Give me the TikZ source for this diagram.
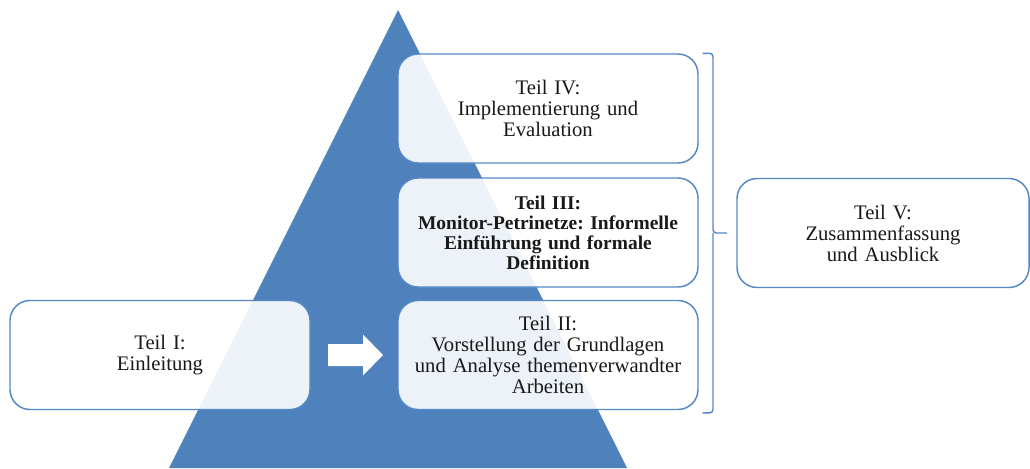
\documentclass[tikz,border=0pt]{standalone}
\usepackage{fontspec}
\setmainfont{Liberation Serif}
\definecolor{officeblue}{RGB}{79,129,189}
\definecolor{frameblue}{RGB}{84,136,198}
\tikzset{
  part/.style={draw=frameblue, line width=1.1pt, fill=white, fill opacity=0.9,
    text opacity=1, rounded corners=15pt, minimum width=225pt,
    minimum height=81.75pt, inner sep=0pt, text width=218pt, align=center,
    font=\frenchspacing\fontsize{15.5}{15.75}\selectfont, text=black!90},
  bracket/.style={draw=frameblue, line width=1.1pt, rounded corners=2.5pt},
  blockarrow/.style={fill=white}
}
\begin{document}
\begin{tikzpicture}[x=0.75pt, y=-0.75pt]
  \useasboundingbox (0,0) rectangle (1030,468);
  % pyramid in the background
  \fill[officeblue] (398,10) -- (627,468) -- (169,468) -- cycle;

  % chapter boxes
  \node[part] (p1) at (160,355) {Teil I:\\Einleitung};
  \node[part] (p2) at (548,355) {Teil II:\\Vorstellung der Grundlagen\\und Analyse themenverwandter\\Arbeiten};
  \node[part, font=\frenchspacing\fontsize{14.6}{15}\selectfont\bfseries] (p3) at (548,232.5) {Teil III:\\Monitor-Petrinetze: Informelle\\Einführung und formale\\Definition};
  \node[part] (p4) at (548,108.5) {Teil IV:\\Implementierung und\\Evaluation};
  \node[part, minimum width=219pt] (p5) at (883,233) {Teil V:\\Zusammenfassung\\und Ausblick};

  % block arrow from part I to part II
  \coordinate (arr) at (328,355);
  \fill[blockarrow] (arr) ++(0,-11) -- ++(35,0) -- ++(0,-9.5) -- ++(20,20.5)
      -- ++(-20,20.5) -- ++(0,-9.5) -- ++(-35,0) -- cycle;

  % bracket grouping parts II--IV
  \coordinate (btop) at ([xshift=3pt]p4.north east);
  \coordinate (bbot) at ([xshift=3pt,yshift=-2pt]p2.south east);
  \coordinate (bmid) at (713,233);
  \coordinate (btip) at (727,233);
  \draw[bracket] (btop) -| (bmid) -- (btip);
  \draw[bracket] (bmid) |- (bbot);
\end{tikzpicture}
\end{document}
